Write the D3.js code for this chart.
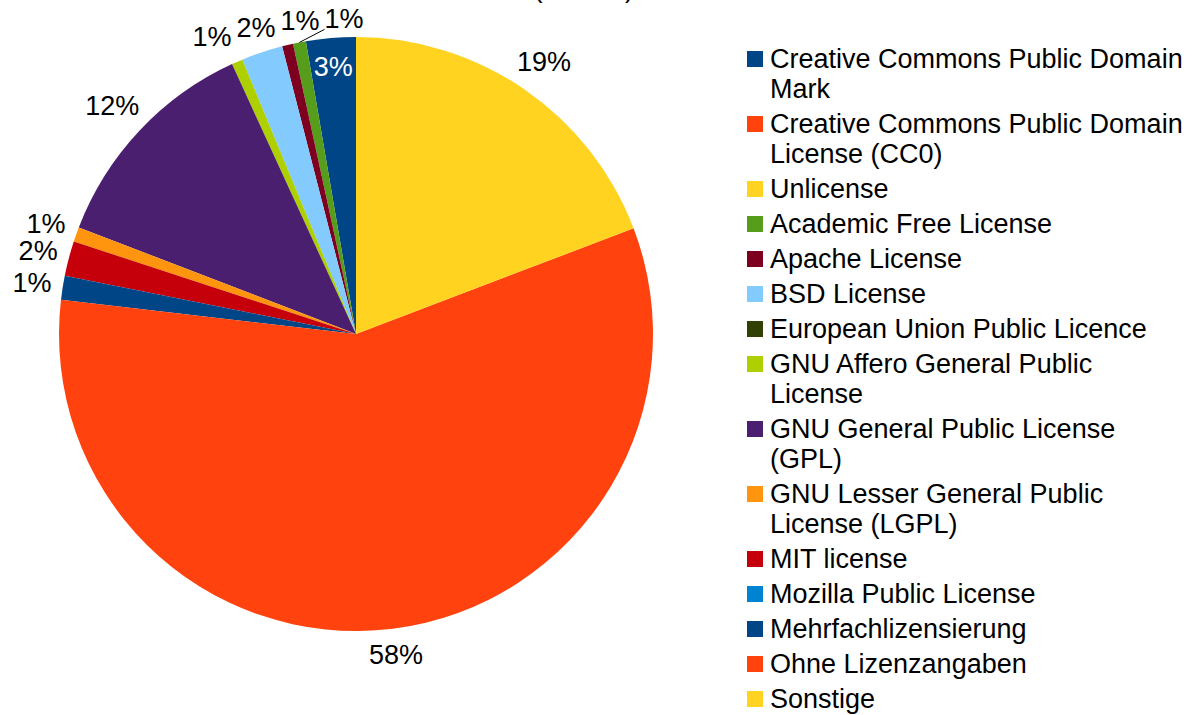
<!DOCTYPE html>
<html>
<head>
<meta charset="utf-8">
<script src="https://cdn.jsdelivr.net/npm/d3@7"></script>
<style>
	body { margin: 0; background: #fff; }
	svg { display: block; }
	text { font-family: "Liberation Sans", Arial, sans-serif; }
</style>
</head>
<body>
<svg id="chart" width="1195" height="715"></svg>
<script>
const categories = [
	'Creative Commons Public Domain Mark',
	'Creative Commons Public Domain License (CC0)',
	'Unlicense',
	'Academic Free License',
	'Apache License',
	'BSD License',
	'European Union Public Licence',
	'GNU Affero General Public License',
	'GNU General Public License (GPL)',
	'GNU Lesser General Public License (LGPL)',
	'MIT license',
	'Mozilla Public License',
	'Mehrfachlizensierung',
	'Ohne Lizenzangaben',
	'Sonstige'
];
const values = [ 2.7, 0, 0, 0.7, 0.6, 2.25, 0, 0.6, 12.3, 0.8, 1.9, 0, 1.3, 57.6, 19.2 ];
const colours = [
	'#004586', '#ff420e', '#ffd320', '#579d1c', '#7e0021', '#83caff', '#314004',
	'#aecf00', '#4b1f6f', '#ff950e', '#c5000b', '#0084d1', '#004586', '#ff420e', '#ffd320'
];
const insideLabels = [ 'Creative Commons Public Domain Mark' ];
const titleText = 'Lizenzen (Anzahl)';

const cx = 356, cy = 334, radius = 297, fontSize = 27;

const svg = d3.select( '#chart' ),
	total = d3.sum( values ),
	percent = d3.format( '.0%' ),
	colour = d3.scaleOrdinal().domain( categories ).range( colours ),
	createPie = d3
		.pie()
		.value( ( d ) => d.value )
		.sort( null )
		.startAngle( 0 )
		.endAngle( -2 * Math.PI ),
	createArc = d3.arc().innerRadius( 0 ).outerRadius( radius );

const slices = createPie( categories.map( ( name, i ) => ( { name, value: values[ i ] } ) ) )
	.filter( ( d ) => d.value > 0 );

// title, mostly above the visible area
svg.append( 'text' )
	.attr( 'x', 634 )
	.attr( 'y', -3 )
	.attr( 'text-anchor', 'end' )
	.style( 'font-size', fontSize + 'px' )
	.text( titleText );

const group = svg.append( 'g' ).attr( 'transform', `translate(${cx},${cy})` );

group.selectAll( 'path.slice' )
	.data( slices )
	.join( 'path' )
	.attr( 'class', 'slice' )
	.attr( 'd', createArc )
	.attr( 'fill', ( d ) => colour( d.data.name ) );

// label layout
const measure = group.append( 'text' ).style( 'font-size', fontSize + 'px' );
const labelH = 22;
const labels = slices.map( ( d ) => {
	const mid = ( d.startAngle + d.endAngle ) / 2,
		sx = Math.sin( mid ),
		sy = -Math.cos( mid ),
		txt = percent( d.value / total );
	measure.text( txt );
	const w = measure.node().getComputedTextLength(),
		inside = insideLabels.includes( d.data.name ),
		gap = sy > 0 ? 12 : 10,
		dist = inside ? radius * 0.905 : radius + gap + ( w / 2 ) * Math.abs( sx ) + ( labelH / 2 ) * Math.abs( sy );
	return { d, txt, w, sx, sy, inside, x0: dist * sx, y0: dist * sy, x: dist * sx, y: dist * sy };
} );
measure.remove();

// push overlapping outside labels apart, left to right
const outside = labels.filter( ( l ) => !l.inside ).sort( ( a, b ) => a.x0 - b.x0 );
const clusters = [];
outside.forEach( ( l ) => {
	const cluster = clusters[ clusters.length - 1 ],
		prev = cluster && cluster[ cluster.length - 1 ];
	if ( prev && Math.abs( prev.y - l.y ) < labelH + 2 ) {
		const need = prev.w / 2 + l.w / 2 + 5;
		if ( l.x - prev.x < need ) {
			l.x = prev.x + need;
			cluster.push( l );
			return;
		}
	}
	clusters.push( [ l ] );
} );
clusters.filter( ( c ) => c.length > 1 ).forEach( ( c ) => {
	const shift = ( d3.mean( c, ( l ) => l.x ) - d3.mean( c, ( l ) => l.x0 ) ) / 2;
	c.forEach( ( l ) => ( l.x -= shift ) );
} );

// leader lines for labels moved away from their slice
labels.filter( ( l ) => !l.inside && Math.abs( l.x - l.x0 ) > 30 ).forEach( ( l ) => {
	const ex = radius * l.sx,
		ey = radius * l.sy,
		px = Math.max( l.x - l.w / 2, Math.min( ex, l.x + l.w / 2 ) ),
		py = Math.max( l.y - labelH / 2, Math.min( ey, l.y + labelH / 2 ) );
	group.append( 'line' )
		.attr( 'x1', ex ).attr( 'y1', ey )
		.attr( 'x2', px ).attr( 'y2', py )
		.attr( 'stroke', '#000' )
		.attr( 'stroke-width', 1 );
} );

group.selectAll( 'text.label' )
	.data( labels )
	.join( 'text' )
	.attr( 'class', 'label' )
	.attr( 'x', ( l ) => l.x )
	.attr( 'y', ( l ) => l.y + fontSize * 0.35 )
	.attr( 'text-anchor', 'middle' )
	.style( 'font-size', fontSize + 'px' )
	.style( 'fill', ( l ) => ( l.inside ? '#fff' : '#000' ) )
	.text( ( l ) => l.txt );

// legend
const legend = svg.append( 'g' ).attr( 'transform', 'translate(747,0)' ),
	maxWidth = fontSize * 15.5,
	lineStep = 30,
	itemStep = 35;
let rowY = 59;
categories.forEach( ( name ) => {
	legend.append( 'rect' )
		.attr( 'x', 0 )
		.attr( 'y', rowY - 8 )
		.attr( 'width', 16 )
		.attr( 'height', 16 )
		.attr( 'fill', colour( name ) );
	const text = legend.append( 'text' ).style( 'font-size', fontSize + 'px' );
	const words = name.split( ' ' );
	let line = [],
		lineY = rowY,
		tspan = text.append( 'tspan' ).attr( 'x', 23 ).attr( 'y', lineY + fontSize * 0.34 );
	words.forEach( ( word ) => {
		line.push( word );
		tspan.text( line.join( ' ' ) );
		if ( line.length > 1 && tspan.node().getComputedTextLength() > maxWidth ) {
			line.pop();
			tspan.text( line.join( ' ' ) );
			line = [ word ];
			lineY += lineStep;
			tspan = text.append( 'tspan' ).attr( 'x', 23 ).attr( 'y', lineY + fontSize * 0.34 ).text( word );
		}
	} );
	rowY = lineY + itemStep;
} );
</script>
</body>
</html>
